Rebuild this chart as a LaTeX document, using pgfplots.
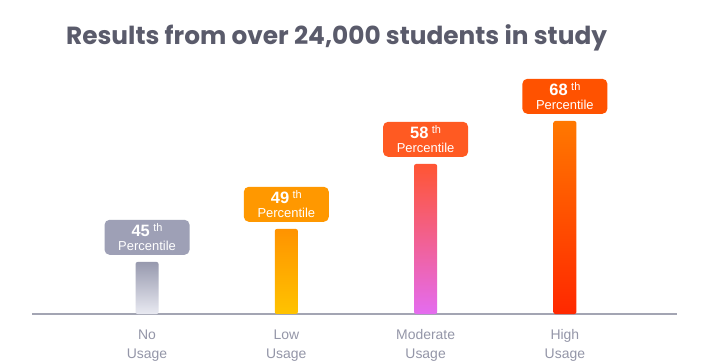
\documentclass[border=0pt]{standalone}
\usepackage{pgfplots}
\pgfplotsset{compat=1.18}
\usepackage{fontspec}
\setmainfont{Liberation Sans}
\newfontfamily\titlefont{Poppins}
\definecolor{titlec}{HTML}{5A5B6B}
\definecolor{axisc}{HTML}{A3A5B3}
\definecolor{tickc}{HTML}{9496A8}
\definecolor{noBox}{HTML}{9EA0B6}
\definecolor{noTop}{HTML}{9799AE}
\definecolor{noBot}{HTML}{E9EAF2}
\definecolor{lowBox}{HTML}{FF9800}
\definecolor{lowTop}{HTML}{FF9300}
\definecolor{lowBot}{HTML}{FFC300}
\definecolor{modBox}{HTML}{FF5A22}
\definecolor{modTop}{HTML}{FF5533}
\definecolor{modMid}{HTML}{FB5E8A}
\definecolor{modBot}{HTML}{E46CF0}
\definecolor{hiBox}{HTML}{FF5200}
\definecolor{hiTop}{HTML}{FF7800}
\definecolor{hiBot}{HTML}{FF2800}
\newcommand{\pbox}[1]{{\fontsize{16.5}{16}\selectfont\bfseries #1}\hspace{3.5bp}\raisebox{5bp}{\fontsize{11}{11}\selectfont th}\\[2bp]{\fontsize{13}{13}\selectfont Percentile}}
\pgfplotsset{
  boxlab/.style={nodes near coords={\pbox{\pgfplotspointmeta}}, point meta=explicit symbolic,
    every node near coord/.style={anchor=south, yshift=7bp, fill=#1, text=white, rounded corners=5bp,
      minimum width=85bp, minimum height=35bp, inner sep=0pt, align=center}},
  mybar/.style={ybar, bar width=23bp, bar shift=0pt, draw=none, rounded corners=2bp}
}
\begin{document}
\begin{tikzpicture}
\useasboundingbox[fill=white] (0,0) rectangle (714bp,362bp);
\node[anchor=base west, text=titlec, inner sep=0pt] at (66bp,317.7bp) {\titlefont\bfseries\fontsize{24.9}{25}\selectfont Results from over 24,000 students in study};
\begin{axis}[
  at={(32bp,48bp)}, anchor=south west,
  scale only axis, width=645bp, height=200bp,
  xmin=-0.826, xmax=3.805, ymin=0, ymax=200,
  axis y line=none, axis x line*=bottom,
  x axis line style={draw=axisc, line width=1.5bp, -},
  xtick={0,1,2,3}, xticklabels={{No\\Usage},{Low\\Usage},{Moderate\\Usage},{High\\Usage}},
  major tick length=0pt,
  x tick label style={align=center, font=\fontsize{14}{19}\selectfont, text=tickc, yshift=-12bp},
  clip=false,
]
\addplot[mybar, top color=noTop, bottom color=noBot, boxlab=noBox] coordinates {(0,52) [45]};
\addplot[mybar, top color=lowTop, bottom color=lowBot, boxlab=lowBox] coordinates {(1,85) [49]};
\addplot[mybar, top color=modTop, middle color=modMid, bottom color=modBot, boxlab=modBox] coordinates {(2,150) [58]};
\addplot[mybar, top color=hiTop, bottom color=hiBot, boxlab=hiBox] coordinates {(3,193) [68]};
\end{axis}
\end{tikzpicture}
\end{document}
